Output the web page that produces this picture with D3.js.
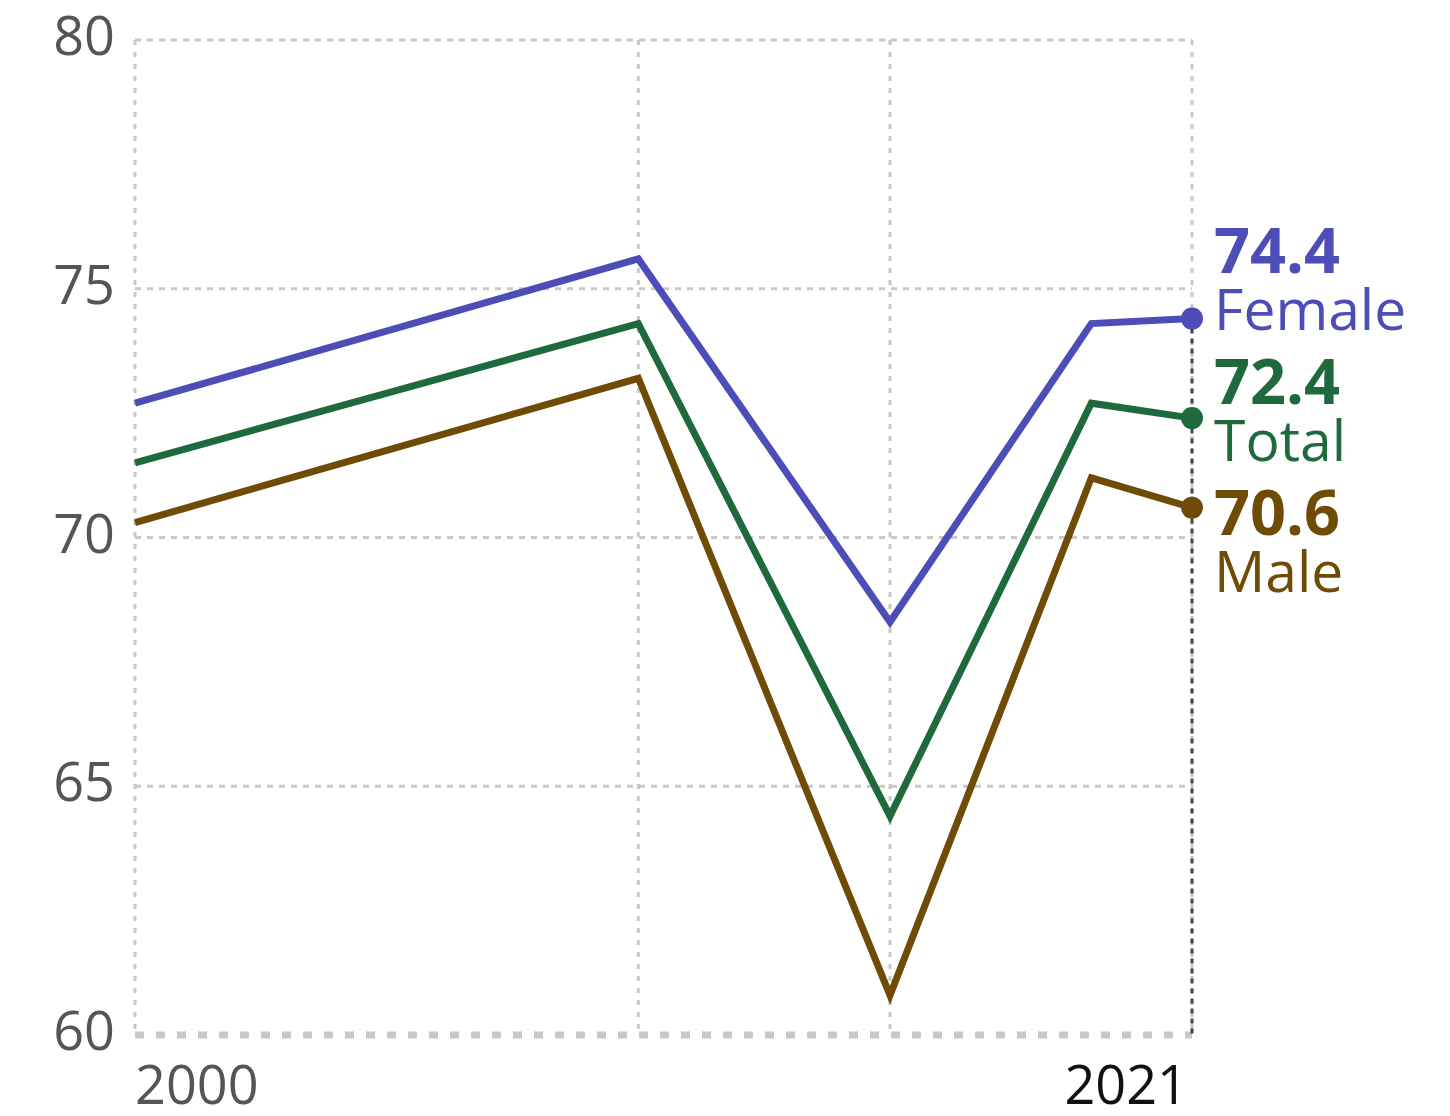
<!DOCTYPE html>
<html>
<head>
<meta charset="utf-8">
<script src="https://cdn.jsdelivr.net/npm/d3@7"></script>
<style>
  body { margin: 0; background: #fff; }
  text { font-family: "Open Sans", "Noto Sans", sans-serif; }
</style>
</head>
<body>
<div id="chart"></div>
<script>
var years = [2000, 2010, 2015, 2019, 2021];
var female = [72.7, 75.6, 68.3, 74.3, 74.4];
var total = [71.5, 74.3, 64.4, 72.7, 72.4];
var male = [70.3, 73.2, 60.8, 71.2, 70.6];

var seriesNames = ["Female", "Total", "Male"];
var seriesColors = ["#4d4db8", "#1e6a3d", "#704b05"];

var yTicks = [60, 65, 70, 75, 80];
var xGridYears = [2000, 2010, 2015, 2021];
var xTickLabels = [2000, 2021];

plot_life_chart("#chart", 1450, 1116);

// draws the three lines with end labels on the right
function plot_life_chart (htmlObjectId, width, height) {

    var margin = {top: 40, right: 258, bottom: 81, left: 135};

    var x = d3.scaleLinear()
              .domain([2000, 2021])
              .range([margin.left, width - margin.right]);

    var y = d3.scaleLinear()
              .domain([60, 80])
              .range([height - margin.bottom, margin.top]);

    var svg = d3.select(htmlObjectId)
                .append("svg")
                .attr("width", width)
                .attr("height", height);

    var series = [female, total, male].map(function(vals, i) {
        return {
            name: seriesNames[i],
            color: seriesColors[i],
            points: vals.map(function(v, j) { return [years[j], v]; })
        };
    });

    var lastYear = years[years.length - 1];

    // horizontal gridlines (bottom one is the dashed baseline)
    svg.append("g").selectAll("line")
        .data(yTicks.filter(function(d) { return d > 60; }))
      .enter().append("line")
        .attr("x1", x(2000)).attr("x2", x(lastYear))
        .attr("y1", function(d) { return y(d); })
        .attr("y2", function(d) { return y(d); })
        .attr("stroke", "#c8c8c8")
        .attr("stroke-width", 3)
        .attr("stroke-dasharray", "6,6");

    // vertical gridlines
    svg.append("g").selectAll("line")
        .data(xGridYears)
      .enter().append("line")
        .attr("x1", function(d) { return x(d); })
        .attr("x2", function(d) { return x(d); })
        .attr("y1", y(80)).attr("y2", y(60))
        .attr("stroke", "#c8c8c8")
        .attr("stroke-width", 3)
        .attr("stroke-dasharray", "5,7");

    // baseline
    svg.append("line")
        .attr("x1", x(2000)).attr("x2", x(lastYear))
        .attr("y1", y(60)).attr("y2", y(60))
        .attr("stroke", "#c8c8c8")
        .attr("stroke-width", 7)
        .attr("stroke-dasharray", "9,12");

    // y tick labels
    svg.append("g").selectAll("text")
        .data(yTicks)
      .enter().append("text")
        .attr("x", margin.left - 20)
        .attr("y", function(d) { return y(d); })
        .attr("dy", "0.28em")
        .attr("text-anchor", "end")
        .attr("font-size", 54)
        .attr("fill", "#555")
        .text(function(d) { return d; });

    // x tick labels
    svg.append("g").selectAll("text")
        .data(xTickLabels)
      .enter().append("text")
        .attr("x", function(d, i) { return i == 0 ? x(d) : x(d) - 4; })
        .attr("y", height - 12)
        .attr("text-anchor", function(d, i) { return i == 0 ? "start" : "end"; })
        .attr("font-size", 54)
        .attr("fill", function(d, i) { return i == 0 ? "#555" : "#111"; })
        .text(function(d) { return d; });

    // highlight line at last year, from top dot down
    var topLast = d3.max(series, function(s) { return s.points[s.points.length - 1][1]; });
    svg.append("line")
        .attr("x1", x(lastYear)).attr("x2", x(lastYear))
        .attr("y1", y(topLast)).attr("y2", y(60))
        .attr("stroke", "#444")
        .attr("stroke-width", 3)
        .attr("stroke-dasharray", "5,5");

    var line = d3.line()
        .x(function(d) { return x(d[0]); })
        .y(function(d) { return y(d[1]); });

    svg.append("g").selectAll("path")
        .data(series)
      .enter().append("path")
        .attr("fill", "none")
        .attr("stroke", function(d) { return d.color; })
        .attr("stroke-width", 7)
        .attr("stroke-linejoin", "miter")
        .attr("d", function(d) { return line(d.points); });

    // end dots
    svg.append("g").selectAll("circle")
        .data(series)
      .enter().append("circle")
        .attr("cx", x(lastYear))
        .attr("cy", function(d) { return y(d.points[d.points.length - 1][1]); })
        .attr("r", 11)
        .attr("fill", function(d) { return d.color; });

    // spread the end labels so they don't overlap
    var gap = 131;
    var pos = series.map(function(s) { return y(s.points[s.points.length - 1][1]); });
    var mid = d3.mean(pos);
    var spread = pos.map(function(p, i) { return mid + (i - (pos.length - 1) / 2) * gap; });

    var labels = svg.append("g").selectAll("g")
        .data(series)
      .enter().append("g")
        .attr("transform", function(d, i) { return "translate(" + (x(lastYear) + 22) + "," + spread[i] + ")"; })
        .attr("fill", function(d) { return d.color; });

    labels.append("text")
        .attr("y", -11)
        .attr("font-size", 63)
        .attr("font-weight", "bold")
        .text(function(d) { return d.points[d.points.length - 1][1].toFixed(1); });

    labels.append("text")
        .attr("y", 46)
        .attr("font-size", 57)
        .text(function(d) { return d.name; });
}
</script>
</body>
</html>
